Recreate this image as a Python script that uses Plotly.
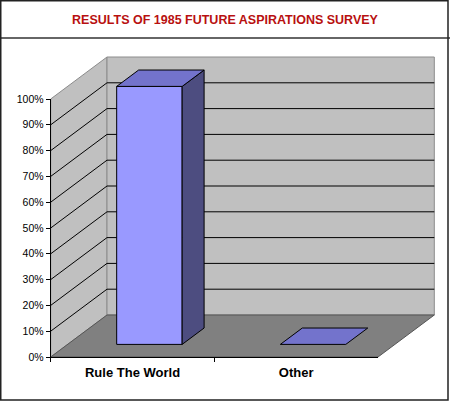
import plotly.graph_objects as go

# data
categories = ["Rule The World", "Other"]
values = [100, 0]
y_ticks = [0, 10, 20, 30, 40, 50, 60, 70, 80, 90, 100]
y_tick_labels = [f"{t}%" for t in y_ticks]
title_text = "RESULTS OF 1985 FUTURE ASPIRATIONS SURVEY"

# page / projection geometry (pixels)
W, H = 450, 402
ax_left, ax_right = 50.7, 378.0      # front floor edge
y_zero, y_full = 357.0, 99.0         # front 0% and 100%
depth_px = (56.3, 42.0)              # offset of the back wall

ux = (ax_right - ax_left) / len(categories)   # px per category unit
uy = (y_zero - y_full) / 100.0                # px per percent
DX = depth_px[0] / ux
DY = depth_px[1] / uy
y_top = y_ticks[-1]
n_cat = len(categories)

bar_half = 0.2
f_front, f_back = 0.30, 0.69

WALL = "#C0C0C0"
FLOOR = "#808080"
EDGE = "#8C8C8C"
FRONT = "#9999FF"
TOP = "#7373CC"
SIDE = "#4D4D80"


def poly(xs, ys, fill, line="black", width=1):
    return go.Scatter(x=xs + xs[:1], y=ys + ys[:1], mode="lines", fill="toself",
                      fillcolor=fill, line=dict(color=line, width=width),
                      hoverinfo="skip", showlegend=False)


fig = go.Figure()

# left wall, back wall, floor
fig.add_trace(poly([0, DX, DX, 0], [0, DY, y_top + DY, y_top], WALL, EDGE))
fig.add_trace(poly([DX, n_cat + DX, n_cat + DX, DX],
                   [DY, DY, y_top + DY, y_top + DY], WALL, EDGE))
fig.add_trace(poly([0, n_cat, n_cat + DX, DX], [0, 0, DY, DY], FLOOR, "#555555"))

# gridlines on the walls
gx, gy = [], []
for t in y_ticks[1:-1]:
    gx += [0, DX, n_cat + DX, None]
    gy += [t, t + DY, t + DY, None]
fig.add_trace(go.Scatter(x=gx, y=gy, mode="lines", line=dict(color="black", width=1),
                         hoverinfo="skip", showlegend=False))

# bars
for i, v in enumerate(values):
    cx = i + 0.5
    xl0, xr0 = cx - bar_half + f_front * DX, cx + bar_half + f_front * DX
    xl1, xr1 = cx - bar_half + f_back * DX, cx + bar_half + f_back * DX
    y0, y1 = f_front * DY, f_back * DY
    if v > 0:
        fig.add_trace(poly([xl0, xr0, xr0, xl0], [y0, y0, v + y0, v + y0], FRONT))
        fig.add_trace(poly([xr0, xr1, xr1, xr0], [y0, y1, v + y1, v + y0], SIDE))
    fig.add_trace(poly([xl0, xr0, xr1, xl1], [v + y0, v + y0, v + y1, v + y1], TOP))

# axes with the tick labels
fig.add_trace(go.Scatter(x=categories, y=values, mode="markers", marker=dict(opacity=0),
                         hoverinfo="skip", showlegend=False, xaxis="x2", yaxis="y2"))

fnt = "Liberation Sans, Arial, sans-serif"
fig.update_layout(
    width=W, height=H,
    margin=dict(l=0, r=0, t=0, b=0),
    paper_bgcolor="white", plot_bgcolor="rgba(0,0,0,0)",
    showlegend=False,
    title=dict(text=title_text, x=0.5, xanchor="center", y=1 - 19.5 / H, yanchor="middle",
               font=dict(family=fnt, size=12.5, color="#B81010", weight="bold")),
    xaxis=dict(domain=[0, 1], range=[-ax_left / ux, (W - ax_left) / ux], visible=False,
               fixedrange=True),
    yaxis=dict(domain=[0, 1], range=[-(H - y_zero) / uy, y_zero / uy], visible=False,
               fixedrange=True),
    xaxis2=dict(domain=[ax_left / W, ax_right / W], anchor="y2", type="category",
                categoryorder="array", categoryarray=categories, range=[-0.5, n_cat - 0.5],
                showline=True, linecolor="black", linewidth=1, showgrid=False, zeroline=False,
                ticks="outside", ticklen=4, tickcolor="black", tickson="boundaries",
                ticklabelstandoff=3,
                tickfont=dict(family=fnt, size=13, color="black", weight="bold"),
                automargin=False, fixedrange=True),
    yaxis2=dict(domain=[(H - y_zero) / H, (H - y_full) / H], anchor="x2", range=[0, y_top],
                tickvals=y_ticks, ticktext=y_tick_labels,
                showline=True, linecolor="black", linewidth=1, showgrid=False, zeroline=False,
                ticks="outside", ticklen=4, tickcolor="black",
                tickfont=dict(family=fnt, size=10.5, color="black"),
                automargin=False, fixedrange=True),
    shapes=[
        dict(type="line", xref="paper", yref="paper", x0=0, x1=1, y0=1 - 38 / H, y1=1 - 38 / H,
             line=dict(color="#333333", width=1.5)),
        dict(type="rect", xref="paper", yref="paper", x0=0.75 / W, x1=448 / W,
             y0=1 - 400 / H, y1=1 - 0.75 / H, line=dict(color="#222222", width=1.5)),
    ],
)

fig.write_html("out.html", config={"displayModeBar": False},
               post_script="document.body.style.margin='0';")
